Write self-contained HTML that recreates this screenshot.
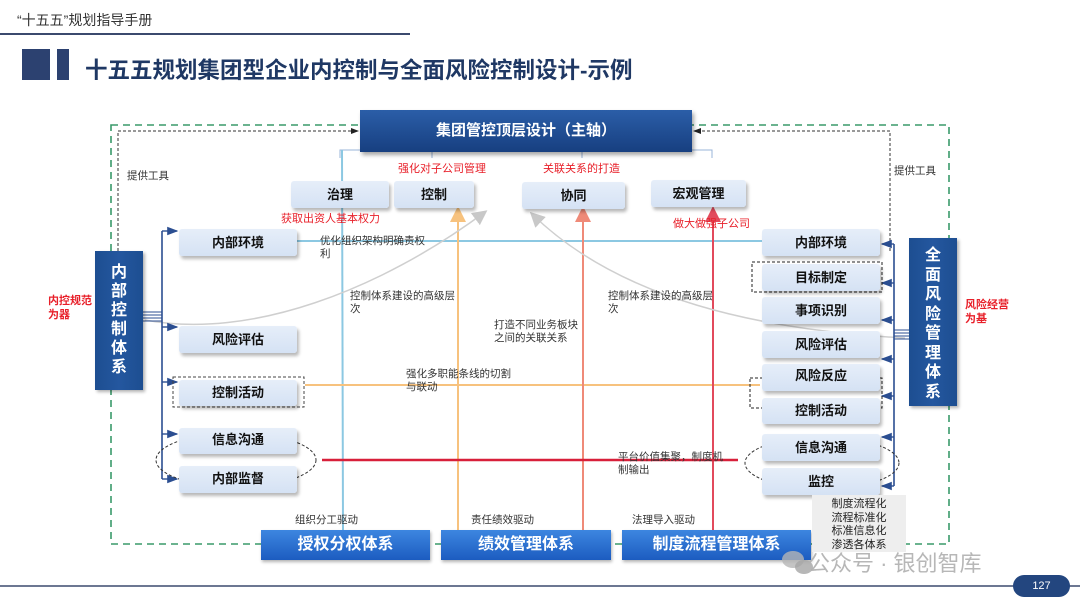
<!DOCTYPE html>
<html><head><meta charset="utf-8">
<style>
*{margin:0;padding:0;box-sizing:border-box}
body{width:1080px;height:608px;background:#fff;position:relative;overflow:hidden;font-family:"Liberation Sans","Noto Sans CJK SC",sans-serif;color:#222}
.a{position:absolute}
.lb{position:absolute;background:linear-gradient(#e6eef9,#d5e2f4);border-radius:3px;box-shadow:2px 3px 3px rgba(0,0,0,.28);font-weight:bold;font-size:13px;text-align:center;color:#111}
.red{color:#e8202a;font-size:11px;position:absolute}
.t{position:absolute;font-size:10.5px;line-height:13px;color:#333}
.bb{position:absolute;background:linear-gradient(#3d86e0,#1c5cc0);color:#fff;font-weight:bold;font-size:16px;text-align:center;line-height:30px;box-shadow:1px 2px 3px rgba(0,0,0,.3)}
.vb{position:absolute;background:linear-gradient(90deg,#1d4e91,#24579f,#1d4e91);color:#fff;font-weight:bold;font-size:16px;text-align:center;box-shadow:2px 2px 3px rgba(0,0,0,.3)}
</style></head><body>
<div class="a" style="left:17px;top:10px;font-size:14px;color:#333">“十五五”规划指导手册</div>
<div class="a" style="left:0;top:33px;width:410px;height:2px;background:#3b4a6e"></div>
<div class="a" style="left:22px;top:49px;width:28px;height:31px;background:#2c4170"></div>
<div class="a" style="left:57px;top:49px;width:12px;height:31px;background:#2c4170"></div>
<div class="a" style="left:85px;top:53px;font-size:22.5px;font-weight:bold;color:#1f3864;white-space:nowrap">十五五规划集团型企业内控制与全面风险控制设计-示例</div>

<svg class="a" style="left:0;top:0" width="1080" height="608">
<defs>
<marker id="ab" markerWidth="8" markerHeight="8" refX="7" refY="4" orient="auto"><path d="M0,1 L8,4 L0,7z" fill="#2b4e91"/></marker>
<marker id="ak" markerWidth="8" markerHeight="8" refX="7" refY="4" orient="auto"><path d="M0,1 L8,4 L0,7z" fill="#222"/></marker>
<marker id="ao" markerWidth="8" markerHeight="8" refX="6" refY="4" orient="auto"><path d="M0,0 L8,4 L0,8z" fill="#f7c27e"/></marker>
<marker id="as" markerWidth="8" markerHeight="8" refX="6" refY="4" orient="auto"><path d="M0,0 L8,4 L0,8z" fill="#ef8a78"/></marker>
<marker id="ar" markerWidth="8" markerHeight="8" refX="6" refY="4" orient="auto"><path d="M0,0 L8,4 L0,8z" fill="#e24a5c"/></marker>
<marker id="ag" markerWidth="10" markerHeight="10" refX="8" refY="5" orient="auto"><path d="M0,0 L10,5 L0,10z" fill="#c8c8c8"/></marker>
</defs>
<rect x="111" y="125" width="838" height="419" fill="none" stroke="#3a9a6a" stroke-width="1.6" stroke-dasharray="7,5"/>
<path d="M118,251 V131 H358" fill="none" stroke="#333" stroke-width="1" stroke-dasharray="3,2" marker-end="url(#ak)"/>
<path d="M890,251 V131 H694" fill="none" stroke="#333" stroke-width="1" stroke-dasharray="3,2" marker-end="url(#ak)"/>
<path d="M340,158 V150 H712 V158" fill="none" stroke="#9ab4d8" stroke-width="1"/>
<line x1="432" y1="150" x2="432" y2="158" stroke="#9ab4d8"/><line x1="582" y1="150" x2="582" y2="158" stroke="#9ab4d8"/>
<line x1="296" y1="241" x2="762" y2="241" stroke="#8cc8e2" stroke-width="2"/>
<line x1="342" y1="150" x2="343" y2="531" stroke="#8cc8e2" stroke-width="2"/>
<line x1="305" y1="385" x2="760" y2="385" stroke="#f7c27e" stroke-width="2"/>
<line x1="458" y1="531" x2="458" y2="210" stroke="#f7c27e" stroke-width="2" marker-end="url(#ao)"/>
<line x1="583" y1="531" x2="583" y2="210" stroke="#ef8a78" stroke-width="2" marker-end="url(#as)"/>
<line x1="713" y1="531" x2="713" y2="210" stroke="#e24a5c" stroke-width="2" marker-end="url(#ar)"/>
<line x1="322" y1="460" x2="738" y2="460" stroke="#d8203a" stroke-width="2.5"/>
<path d="M145,320 C250,340 380,290 485,212" fill="none" stroke="#cfcfcf" stroke-width="1.5" marker-end="url(#ag)"/>
<path d="M905,338 C760,330 620,300 532,214" fill="none" stroke="#cfcfcf" stroke-width="1.5" marker-end="url(#ag)"/>
<path d="M162,231 V479" stroke="#2b4e91" stroke-width="1.6" fill="none"/>
<path d="M143,312 H162 M143,315 H162 M143,318 H162 M143,321 H162" stroke="#2b4e91" stroke-width="1"/>
<g stroke="#2b4e91" stroke-width="1.4" fill="none">
<path d="M162,231 H177" marker-end="url(#ab)"/><path d="M162,327 H177" marker-end="url(#ab)"/><path d="M162,382 H177" marker-end="url(#ab)"/><path d="M162,434 H177" marker-end="url(#ab)"/><path d="M162,479 H177" marker-end="url(#ab)"/>
</g>
<path d="M894,244 V486" stroke="#2b4e91" stroke-width="1.6" fill="none"/>
<path d="M894,330 H909 M894,333 H909 M894,336 H909 M894,339 H909" stroke="#2b4e91" stroke-width="1"/>
<g stroke="#2b4e91" stroke-width="1.4" fill="none">
<path d="M894,244 H882" marker-end="url(#ab)"/><path d="M894,283 H882" marker-end="url(#ab)"/><path d="M894,320 H882" marker-end="url(#ab)"/><path d="M894,359 H882" marker-end="url(#ab)"/><path d="M894,396 H882" marker-end="url(#ab)"/><path d="M894,437 H882" marker-end="url(#ab)"/><path d="M894,486 H882" marker-end="url(#ab)"/>
</g>
<rect x="173" y="377" width="131" height="30" fill="none" stroke="#444" stroke-dasharray="3,2"/>
<rect x="752" y="262" width="130" height="30" fill="none" stroke="#222" stroke-dasharray="3,2"/>
<rect x="750" y="378" width="132" height="30" fill="none" stroke="#222" stroke-dasharray="3,2"/>
<ellipse cx="236" cy="460" rx="80" ry="27" fill="none" stroke="#333" stroke-dasharray="3,2"/>
<ellipse cx="822" cy="463" rx="77" ry="26" fill="none" stroke="#333" stroke-dasharray="3,2"/>
<line x1="0" y1="586" x2="1080" y2="586" stroke="#3b4a6e" stroke-width="1.5"/>
</svg>

<div class="a" style="left:360px;top:110px;width:332px;height:42px;background:linear-gradient(#2b5ea8,#173f80);color:#fff;font-weight:bold;font-size:15px;text-align:center;line-height:42px;box-shadow:2px 3px 4px rgba(0,0,0,.35)">集团管控顶层设计（主轴）</div>
<div class="red" style="left:398px;top:160px">强化对子公司管理</div>
<div class="red" style="left:543px;top:160px">关联关系的打造</div>
<div class="lb" style="left:291px;top:181px;width:98px;height:27px;line-height:27px">治理</div>
<div class="lb" style="left:394px;top:181px;width:80px;height:27px;line-height:27px">控制</div>
<div class="lb" style="left:522px;top:182px;width:103px;height:27px;line-height:27px">协同</div>
<div class="lb" style="left:651px;top:180px;width:95px;height:27px;line-height:27px">宏观管理</div>
<div class="red" style="left:281px;top:210px">获取出资人基本权力</div>
<div class="red" style="left:673px;top:215px">做大做强子公司</div>
<div class="t" style="left:127px;top:170px">提供工具</div>
<div class="t" style="left:894px;top:165px">提供工具</div>

<div class="vb" style="left:95px;top:251px;width:48px;height:139px;padding-top:12px;line-height:19px">内<br>部<br>控<br>制<br>体<br>系</div>
<div class="a" style="left:48px;top:294px;color:#e8202a;font-size:11px;font-weight:bold;line-height:14px">内控规范<br>为器</div>
<div class="vb" style="left:909px;top:238px;width:48px;height:168px;padding-top:8px;line-height:19.5px">全<br>面<br>风<br>险<br>管<br>理<br>体<br>系</div>
<div class="a" style="left:965px;top:298px;color:#e8202a;font-size:11px;font-weight:bold;line-height:14px">风险经营<br>为基</div>

<div class="lb" style="left:179px;top:229px;width:118px;height:27px;line-height:27px">内部环境</div>
<div class="lb" style="left:179px;top:326px;width:118px;height:27px;line-height:27px">风险评估</div>
<div class="lb" style="left:179px;top:380px;width:118px;height:26px;line-height:26px">控制活动</div>
<div class="lb" style="left:179px;top:428px;width:118px;height:26px;line-height:24px">信息沟通</div>
<div class="lb" style="left:179px;top:466px;width:118px;height:27px;line-height:26px">内部监督</div>

<div class="lb" style="left:762px;top:229px;width:118px;height:27px;line-height:27px">内部环境</div>
<div class="lb" style="left:762px;top:264px;width:118px;height:27px;line-height:27px">目标制定</div>
<div class="lb" style="left:762px;top:297px;width:118px;height:27px;line-height:27px">事项识别</div>
<div class="lb" style="left:762px;top:331px;width:118px;height:27px;line-height:27px">风险评估</div>
<div class="lb" style="left:762px;top:364px;width:118px;height:27px;line-height:24px">风险反应</div>
<div class="lb" style="left:762px;top:398px;width:118px;height:26px;line-height:26px">控制活动</div>
<div class="lb" style="left:762px;top:434px;width:118px;height:27px;line-height:27px">信息沟通</div>
<div class="lb" style="left:762px;top:468px;width:118px;height:27px;line-height:27px">监控</div>

<div class="t" style="left:320px;top:235px">优化组织架构明确责权<br>利</div>
<div class="t" style="left:350px;top:290px">控制体系建设的高级层<br>次</div>
<div class="t" style="left:494px;top:319px">打造不同业务板块<br>之间的关联关系</div>
<div class="t" style="left:406px;top:368px">强化多职能条线的切割<br>与联动</div>
<div class="t" style="left:608px;top:290px">控制体系建设的高级层<br>次</div>
<div class="t" style="left:618px;top:451px">平台价值集聚，制度机<br>制输出</div>
<div class="t" style="left:295px;top:514px">组织分工驱动</div>
<div class="t" style="left:471px;top:514px">责任绩效驱动</div>
<div class="t" style="left:632px;top:514px">法理导入驱动</div>

<div class="bb" style="left:261px;top:530px;width:169px">授权分权体系</div>
<div class="bb" style="left:441px;top:530px;width:170px">绩效管理体系</div>
<div class="bb" style="left:622px;top:530px;width:189px">制度流程管理体系</div>
<div class="a" style="left:812px;top:495px;width:94px;height:57px;background:#eeeeee;font-size:11px;line-height:13.5px;text-align:center;padding-top:3px;color:#222">制度流程化<br>流程标准化<br>标准信息化<br>渗透各体系</div>

<div class="a" style="left:782px;top:551px;width:22px;height:17px;border-radius:50%;background:#b5b5b5;opacity:.8"></div>
<div class="a" style="left:795px;top:560px;width:18px;height:14px;border-radius:50%;background:#a5a5a5;opacity:.8"></div>
<div class="a" style="left:808px;top:546px;font-size:22px;color:#b0b0b0;opacity:.9">公众号 · 银创智库</div>
<div class="a" style="left:1013px;top:575px;width:57px;height:22px;border-radius:11px;background:#23467f;color:#fff;font-size:11px;text-align:center;line-height:22px">127</div>
</body></html>
